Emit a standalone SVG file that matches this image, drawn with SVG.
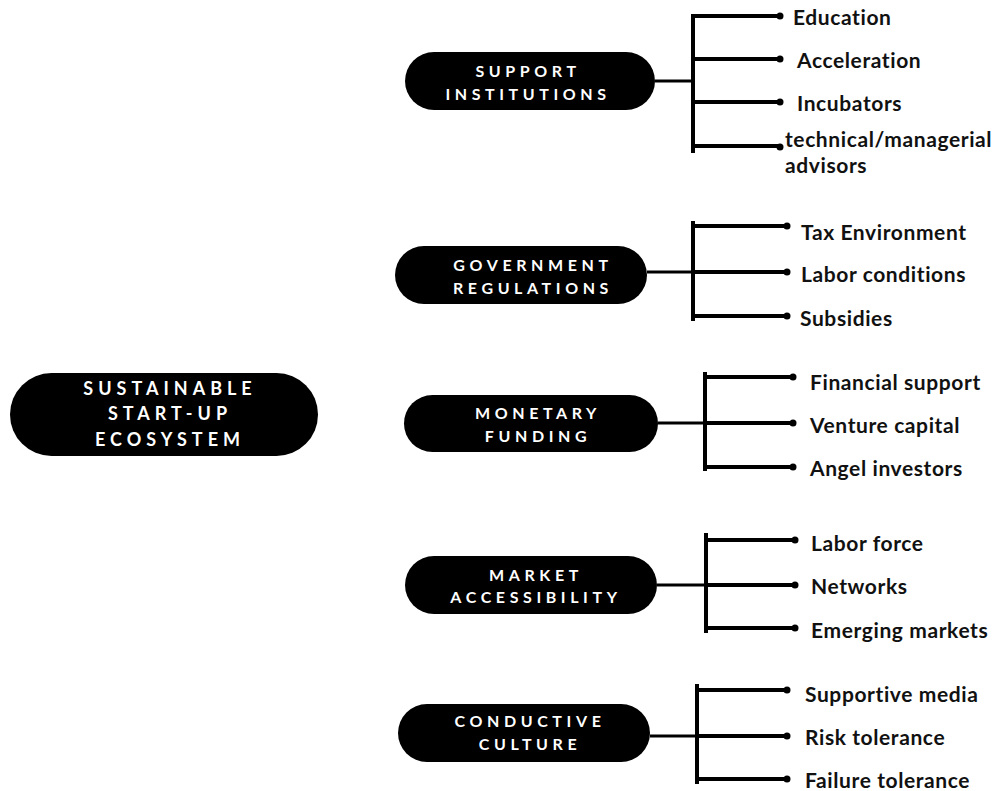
<svg xmlns="http://www.w3.org/2000/svg" width="995" height="791" viewBox="0 0 995 791">
<style>
.pill{fill:#000}
.pt{font-family:Lato,"Open Sans",sans-serif;font-weight:bold;font-size:16px;letter-spacing:4.6px;fill:#fff;text-anchor:middle;dominant-baseline:central}
.ct{font-family:Lato,"Open Sans",sans-serif;font-weight:bold;font-size:18px;letter-spacing:5px;fill:#fff;text-anchor:middle;dominant-baseline:central}
.lb{font-family:Lato,"Open Sans",sans-serif;font-weight:bold;font-size:21px;letter-spacing:0.6px;fill:#111;dominant-baseline:central}
.ln{stroke:#000;stroke-width:4;fill:none}
.cn{stroke:#000;stroke-width:3;fill:none}
.dot{fill:#000}
</style>
<rect width="995" height="791" fill="#fff"/>
<g id="connectors">
<path class="cn" d="M655 81H693"/>
<path class="ln" d="M693 14V153M693 16H780M693 59H780M693 102H780M693 146H780"/>
<circle class="dot" cx="780" cy="16" r="3.5"/><circle class="dot" cx="780" cy="59" r="3.5"/><circle class="dot" cx="780" cy="102" r="3.5"/><circle class="dot" cx="780" cy="147" r="3.5"/>
<path class="cn" d="M647 272H693"/>
<path class="ln" d="M693 221V321M693 226H787M693 272H787M693 316H787"/>
<circle class="dot" cx="787" cy="226" r="3.5"/><circle class="dot" cx="787" cy="272" r="3.5"/><circle class="dot" cx="787" cy="316" r="3.5"/>
<path class="cn" d="M658 423H705"/>
<path class="ln" d="M705 372V471M705 377H793M705 423H793M705 467H793"/>
<circle class="dot" cx="793" cy="377" r="3.5"/><circle class="dot" cx="793" cy="423" r="3.5"/><circle class="dot" cx="793" cy="467" r="3.5"/>
<path class="cn" d="M657 585H706"/>
<path class="ln" d="M706 533V633M706 540H795M706 585H795M706 628H795"/>
<circle class="dot" cx="795" cy="540" r="3.5"/><circle class="dot" cx="795" cy="585" r="3.5"/><circle class="dot" cx="795" cy="628" r="3.5"/>
<path class="cn" d="M650 736H697"/>
<path class="ln" d="M697 684V784M697 690H787M697 736H787M697 779H787"/>
<circle class="dot" cx="787" cy="690" r="3.5"/><circle class="dot" cx="787" cy="736" r="3.5"/><circle class="dot" cx="787" cy="779" r="3.5"/>
</g>
<g id="central">
<rect class="pill" x="10" y="373" width="308" height="83" rx="41.5"/>
<text class="ct" x="170" y="388">SUSTAINABLE</text>
<text class="ct" x="170" y="413">START-UP</text>
<text class="ct" x="170" y="439">ECOSYSTEM</text>
</g>
<g id="support">
<rect class="pill" x="405" y="52" width="250" height="58" rx="29"/>
<text class="pt" x="528" y="70">SUPPORT</text>
<text class="pt" x="528" y="93">INSTITUTIONS</text>
</g>
<g id="government">
<rect class="pill" x="395" y="246" width="252" height="58" rx="29"/>
<text class="pt" x="533" y="264">GOVERNMENT</text>
<text class="pt" x="533" y="287">REGULATIONS</text>
</g>
<g id="monetary">
<rect class="pill" x="404" y="395" width="254" height="57" rx="28.5"/>
<text class="pt" x="538" y="412">MONETARY</text>
<text class="pt" x="538" y="435">FUNDING</text>
</g>
<g id="market">
<rect class="pill" x="405" y="556" width="252" height="58" rx="29"/>
<text class="pt" x="536" y="574">MARKET</text>
<text class="pt" x="536" y="596">ACCESSIBILITY</text>
</g>
<g id="culture">
<rect class="pill" x="398" y="704" width="252" height="58" rx="29"/>
<text class="pt" x="530" y="720">CONDUCTIVE</text>
<text class="pt" x="530" y="743">CULTURE</text>
</g>
<g id="labels">
<text class="lb" x="793" y="16">Education</text>
<text class="lb" x="797" y="59">Acceleration</text>
<text class="lb" x="797" y="102">Incubators</text>
<text class="lb" x="785" y="138">technical/managerial</text>
<text class="lb" x="785" y="164">advisors</text>
<text class="lb" x="801" y="231">Tax Environment</text>
<text class="lb" x="801" y="273">Labor conditions</text>
<text class="lb" x="800" y="317">Subsidies</text>
<text class="lb" x="810" y="381">Financial support</text>
<text class="lb" x="810" y="424">Venture capital</text>
<text class="lb" x="810" y="467">Angel investors</text>
<text class="lb" x="811" y="542">Labor force</text>
<text class="lb" x="811" y="585">Networks</text>
<text class="lb" x="811" y="629">Emerging markets</text>
<text class="lb" x="805" y="693">Supportive media</text>
<text class="lb" x="805" y="736">Risk tolerance</text>
<text class="lb" x="805" y="779">Failure tolerance</text>
</g>
</svg>
